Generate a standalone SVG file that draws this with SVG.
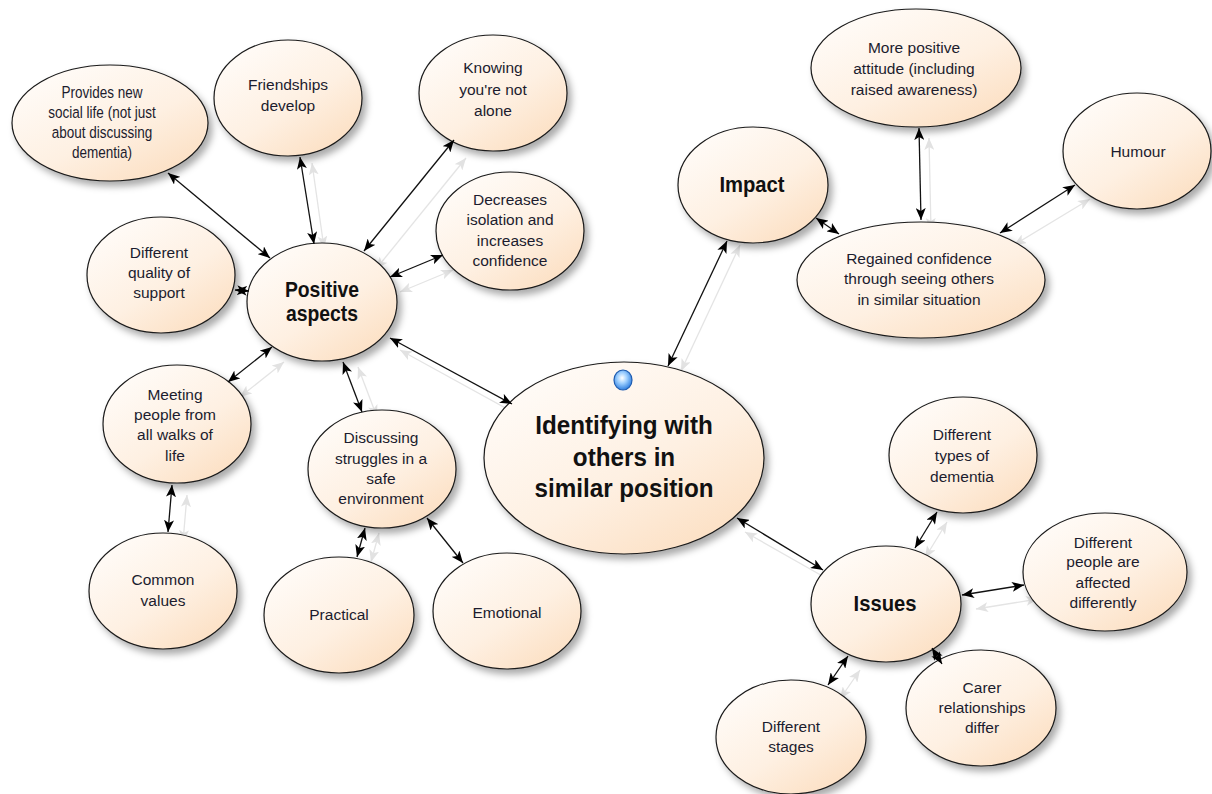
<svg xmlns="http://www.w3.org/2000/svg" width="1212" height="794" viewBox="0 0 1212 794">
<defs>
<linearGradient id="nodeFill" x1="0.15" y1="0.1" x2="0.85" y2="0.95">
<stop offset="0" stop-color="#fffbf7"/>
<stop offset="0.55" stop-color="#fef0e2"/>
<stop offset="1" stop-color="#fcdfc2"/>
</linearGradient>
<radialGradient id="dotFill" cx="0.45" cy="0.4" r="0.6">
<stop offset="0" stop-color="#ffffff"/>
<stop offset="0.45" stop-color="#9fd0ff"/>
<stop offset="1" stop-color="#2f7fe0"/>
</radialGradient>
<filter id="shadow" x="-20%" y="-20%" width="150%" height="150%">
<feDropShadow dx="4" dy="5" stdDeviation="3.5" flood-color="#000" flood-opacity="0.33"/>
</filter>
<marker id="arr" viewBox="0 0 12 10" refX="12" refY="5" markerWidth="12" markerHeight="10" markerUnits="userSpaceOnUse" orient="auto-start-reverse">
<path d="M0,0 L12,5 L0,10 L3,5 Z" fill="#000"/>
</marker>
<marker id="arrg" viewBox="0 0 12 10" refX="12" refY="5" markerWidth="12" markerHeight="10" markerUnits="userSpaceOnUse" orient="auto-start-reverse">
<path d="M0,0 L12,5 L0,10 L3,5 Z" fill="#e2e2e2"/>
</marker>
</defs>
<style>
.node ellipse.b{fill:url(#nodeFill);stroke:#1a1a1a;stroke-width:1.2;filter:url(#shadow)}
.t{font-family:"Liberation Sans",Arial,sans-serif;font-size:15.5px;fill:#1c1c2e;text-anchor:middle}
.tb{font-family:"Liberation Sans",Arial,sans-serif;font-size:22px;font-weight:bold;fill:#111;text-anchor:middle}
.tc{font-family:"Liberation Sans",Arial,sans-serif;font-size:25px;font-weight:bold;fill:#111;text-anchor:middle}
.c line{stroke:#111;stroke-width:1.3;marker-start:url(#arr);marker-end:url(#arr)}
.s line{stroke:#e4e4e4;stroke-width:1.3;marker-start:url(#arrg);marker-end:url(#arrg)}
</style>
<rect width="1212" height="794" fill="#ffffff"/>

<g id="connector-shadows" class="s">
<line x1="312" y1="163" x2="324" y2="248"/>
<line x1="466" y1="158" x2="376" y2="269"/>
<line x1="453" y1="270" x2="400" y2="292"/>
<line x1="284" y1="362" x2="240" y2="397"/>
<line x1="358" y1="367" x2="377" y2="417"/>
<line x1="187" y1="495" x2="183" y2="542"/>
<line x1="379" y1="533" x2="371" y2="562"/>
<line x1="400" y1="350" x2="522" y2="417"/>
<line x1="740" y1="245" x2="681" y2="371"/>
<line x1="929" y1="138" x2="931" y2="230"/>
<line x1="1090" y1="199" x2="1014" y2="245"/>
<line x1="745" y1="532" x2="833" y2="582"/>
<line x1="947" y1="522" x2="925" y2="558"/>
<line x1="976" y1="609" x2="1038" y2="599"/>
<line x1="860" y1="670" x2="840" y2="699"/>
</g>

<g id="node-provides" class="node">
<ellipse class="b" cx="110" cy="123" rx="98" ry="58"/>
<g transform="translate(102,0) scale(0.82,1)">
<text class="t" x="0" y="98" style="font-size:16.5px">Provides new</text>
<text class="t" x="0" y="118" style="font-size:16.5px">social life (not just</text>
<text class="t" x="0" y="138" style="font-size:16.5px">about discussing</text>
<text class="t" x="0" y="158" style="font-size:16.5px">dementia)</text>
</g>
</g>
<g id="node-friendships" class="node">
<ellipse class="b" cx="288" cy="98" rx="74" ry="58"/>
<text class="t" x="288" y="90">Friendships</text>
<text class="t" x="288" y="111">develop</text>
</g>
<g id="node-knowing" class="node">
<ellipse class="b" cx="493" cy="93" rx="74" ry="58"/>
<text class="t" x="493" y="73">Knowing</text>
<text class="t" x="493" y="95">you're not</text>
<text class="t" x="493" y="116">alone</text>
</g>
<g id="node-decreases" class="node">
<ellipse class="b" cx="510" cy="231" rx="74" ry="59"/>
<text class="t" x="510" y="205">Decreases</text>
<text class="t" x="510" y="225">isolation and</text>
<text class="t" x="510" y="246">increases</text>
<text class="t" x="510" y="266">confidence</text>
</g>
<g id="node-quality" class="node">
<ellipse class="b" cx="161" cy="275" rx="74" ry="58"/>
<text class="t" x="159" y="258">Different</text>
<text class="t" x="159" y="278">quality of</text>
<text class="t" x="159" y="298">support</text>
</g>
<g id="node-positive" class="node">
<ellipse class="b" cx="322" cy="302" rx="75" ry="59"/>
<g transform="translate(322,0) scale(0.88,1)">
<text class="tb" x="0" y="297">Positive</text>
<text class="tb" x="0" y="321">aspects</text>
</g>
</g>
<g id="node-meeting" class="node">
<ellipse class="b" cx="177" cy="424" rx="74" ry="59"/>
<text class="t" x="175" y="400">Meeting</text>
<text class="t" x="175" y="420">people from</text>
<text class="t" x="175" y="440">all walks of</text>
<text class="t" x="175" y="461">life</text>
</g>
<g id="node-discussing" class="node">
<ellipse class="b" cx="382" cy="469" rx="74" ry="59"/>
<text class="t" x="381" y="443">Discussing</text>
<text class="t" x="381" y="464">struggles in a</text>
<text class="t" x="381" y="484">safe</text>
<text class="t" x="381" y="504">environment</text>
</g>
<g id="node-common" class="node">
<ellipse class="b" cx="163" cy="591" rx="74" ry="58"/>
<text class="t" x="163" y="585">Common</text>
<text class="t" x="163" y="606">values</text>
</g>
<g id="node-practical" class="node">
<ellipse class="b" cx="339" cy="615" rx="75" ry="58"/>
<text class="t" x="339" y="620">Practical</text>
</g>
<g id="node-emotional" class="node">
<ellipse class="b" cx="507" cy="611" rx="74" ry="58"/>
<text class="t" x="507" y="618">Emotional</text>
</g>
<g id="node-central" class="node">
<ellipse class="b" cx="624" cy="458" rx="140" ry="96"/>
<ellipse cx="623" cy="380" rx="9" ry="10" fill="url(#dotFill)" stroke="#1e5cb0" stroke-width="1.2"/>
<g transform="translate(624,0) scale(0.97,1)">
<text class="tc" x="0" y="434">Identifying with</text>
<text class="tc" x="0" y="466">others in</text>
<text class="tc" x="0" y="497">similar position</text>
</g>
</g>
<g id="node-impact" class="node">
<ellipse class="b" cx="753" cy="185" rx="75" ry="58"/>
<g transform="translate(752,0) scale(0.92,1)">
<text class="tb" x="0" y="192">Impact</text>
</g>
</g>
<g id="node-attitude" class="node">
<ellipse class="b" cx="916" cy="68" rx="105" ry="59"/>
<text class="t" x="914" y="53">More positive</text>
<text class="t" x="914" y="74">attitude (including</text>
<text class="t" x="914" y="95">raised awareness)</text>
</g>
<g id="node-humour" class="node">
<ellipse class="b" cx="1137" cy="151" rx="74" ry="58"/>
<text class="t" x="1138" y="157">Humour</text>
</g>
<g id="node-regained" class="node">
<ellipse class="b" cx="921" cy="280" rx="124" ry="58"/>
<text class="t" x="919" y="264">Regained confidence</text>
<text class="t" x="919" y="284">through seeing others</text>
<text class="t" x="919" y="305">in similar situation</text>
</g>
<g id="node-types" class="node">
<ellipse class="b" cx="963" cy="455" rx="74" ry="58"/>
<text class="t" x="962" y="440">Different</text>
<text class="t" x="962" y="461">types of</text>
<text class="t" x="962" y="482">dementia</text>
</g>
<g id="node-issues" class="node">
<ellipse class="b" cx="886" cy="604" rx="75" ry="58"/>
<g transform="translate(885,0) scale(0.92,1)">
<text class="tb" x="0" y="611">Issues</text>
</g>
</g>
<g id="node-people" class="node">
<ellipse class="b" cx="1105" cy="572" rx="82" ry="59"/>
<text class="t" x="1103" y="548">Different</text>
<text class="t" x="1103" y="567">people are</text>
<text class="t" x="1103" y="588">affected</text>
<text class="t" x="1103" y="608">differently</text>
</g>
<g id="node-carer" class="node">
<ellipse class="b" cx="981" cy="708" rx="75" ry="58"/>
<text class="t" x="982" y="693">Carer</text>
<text class="t" x="982" y="713">relationships</text>
<text class="t" x="982" y="733">differ</text>
</g>
<g id="node-stages" class="node">
<ellipse class="b" cx="791" cy="737" rx="75" ry="57"/>
<text class="t" x="791" y="732">Different</text>
<text class="t" x="791" y="752">stages</text>
</g>

<g id="connectors" class="c">
<line x1="168" y1="173" x2="270" y2="258"/>
<line x1="300" y1="157" x2="314" y2="244"/>
<line x1="454" y1="140" x2="364" y2="251"/>
<line x1="443" y1="255" x2="390" y2="277"/>
<line x1="235" y1="290" x2="249" y2="291"/>
<line x1="272" y1="347" x2="228" y2="382"/>
<line x1="343" y1="362" x2="362" y2="412"/>
<line x1="172" y1="485" x2="168" y2="532"/>
<line x1="365" y1="528" x2="357" y2="557"/>
<line x1="427" y1="518" x2="463" y2="563"/>
<line x1="390" y1="338" x2="512" y2="404"/>
<line x1="727" y1="241" x2="668" y2="366"/>
<line x1="816" y1="218" x2="839" y2="234"/>
<line x1="919" y1="128" x2="921" y2="220"/>
<line x1="1075" y1="185" x2="1000" y2="233"/>
<line x1="737" y1="518" x2="823" y2="570"/>
<line x1="937" y1="512" x2="915" y2="548"/>
<line x1="962" y1="595" x2="1024" y2="585"/>
<line x1="932" y1="648" x2="942" y2="664"/>
<line x1="848" y1="656" x2="828" y2="685"/>
</g>
</svg>
